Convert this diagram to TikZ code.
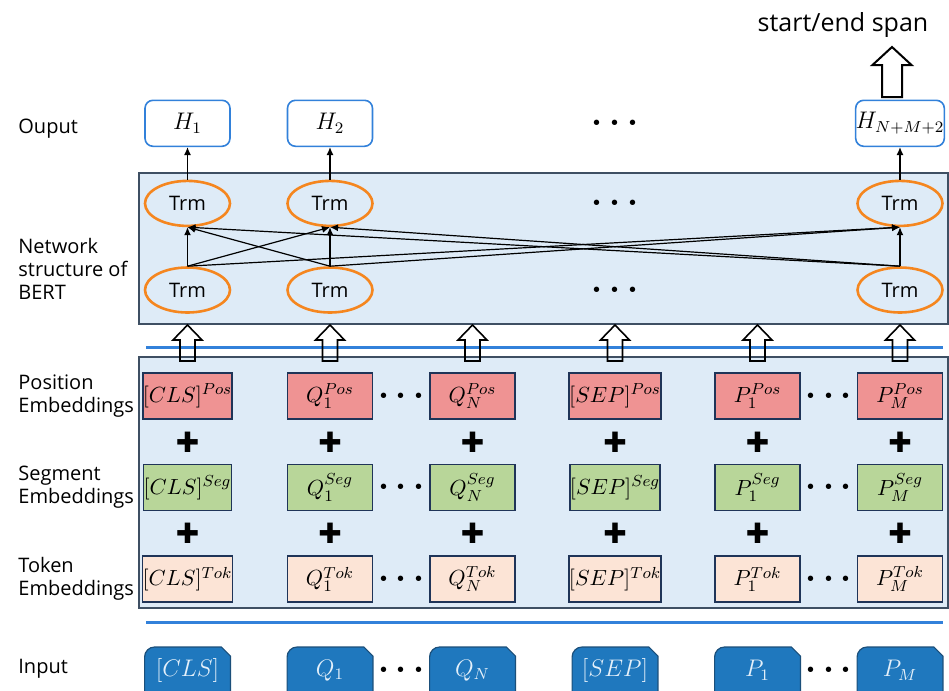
\documentclass[tikz,border=0pt]{standalone}
\usepackage{fontspec}
\setmainfont{Open Sans}
\newfontfamily\symfont{DejaVu Sans}
\usetikzlibrary{arrows.meta, positioning, calc, shapes.geometric, backgrounds}

\definecolor{panel}{HTML}{DEEBF7}
\definecolor{framegray}{HTML}{3E4F63}
\definecolor{navy}{HTML}{1F3458}
\definecolor{posred}{HTML}{EF9393}
\definecolor{seggreen}{HTML}{B8D699}
\definecolor{tokpeach}{HTML}{FCE4D6}
\definecolor{inblue}{HTML}{1F78BE}
\definecolor{inedge}{HTML}{1B4F7A}
\definecolor{intext}{HTML}{E4F0FA}
\definecolor{hblue}{HTML}{3281DA}
\definecolor{trmorange}{HTML}{F5861F}
\definecolor{lineblue}{HTML}{3281DA}

\begin{document}
\begin{tikzpicture}[
    x=0.5pt, y=-0.5pt,
    font=\fontsize{10}{11.5}\selectfont,
    node distance=22pt,
    rowlabel/.style={anchor=west, align=left, inner sep=0pt},
    frame/.style={draw=framegray, line width=0.7pt, fill=panel},
    emb/.style={draw=navy, line width=0.8pt, minimum width=42.5pt, minimum height=23pt, inner sep=0pt, font=\fontsize{11}{13}\selectfont},
    posbox/.style={emb, fill=posred},
    segbox/.style={emb, fill=seggreen},
    tokbox/.style={emb, fill=tokpeach},
    inbox/.style={minimum width=42.5pt, minimum height=23pt, inner sep=0pt, text=intext, font=\fontsize{12}{13}\selectfont},
    inshape/.style={fill=inblue, draw=inedge, line width=0.6pt},
    trm/.style={ellipse, draw=trmorange, line width=1.3pt, minimum width=42.5pt, minimum height=22.5pt, inner sep=0pt},
    hbox/.style={draw=hblue, rounded corners=4pt, line width=0.8pt, fill=white, minimum width=42.5pt, minimum height=23pt, inner sep=0pt, font=\fontsize{12}{13}\selectfont},
    hollow/.style={draw, line width=0.8pt, line join=miter},
    dots/.style={font=\fontsize{16}{16}\selectfont\boldmath, inner sep=0pt},
    plus/.style={font=\symfont\fontsize{14}{14}\selectfont, inner sep=0pt},
    ar/.style={-{Latex[length=4pt, width=3.5pt]}, line width=0.6pt},
    sep/.style={draw=lineblue, line width=1.5pt}
]
\useasboundingbox (0,0) rectangle (949,691);

% panels and separators
\draw[frame] (139,173) rectangle (948,324);
\draw[frame] (139,357) rectangle (948,608);
\draw[sep] (146,347) -- (943,347);
\draw[sep] (146,622) -- (943,622);

% row labels
\node[rowlabel] (lout) at (18,129) {Ouput};
\node[rowlabel] (lnet) at (18,269) {Network\\structure of\\BERT};
\node[rowlabel] (lpos) at (18,396) {Position\\Embeddings};
\node[rowlabel] (lseg) at (18,487) {Segment\\Embeddings};
\node[rowlabel] (ltok) at (18,579) {Token\\Embeddings};
\node[rowlabel] (lin) at (18,669) {Input};

% embedding columns
\foreach \i/\x/\t in {1/187.5/{[CLS]}, 2/330/{Q_1}, 3/472.5/{Q_N}, 4/615/{[SEP]}, 5/757.5/{P_1}, 6/900/{P_M}} {
  \node[posbox] (pos\i) at (\x,396) {$\t^{Pos}$};
  \node[segbox, below=of pos\i] (seg\i) {$\t^{Seg}$};
  \node[tokbox, below=of seg\i] (tok\i) {$\t^{Tok}$};
  \node[inbox, below=of tok\i] (in\i) {$\t$};
  \node[plus] (pa\i) at ($(pos\i)!0.5!(seg\i)$) {✚};
  \node[plus] (pb\i) at ($(seg\i)!0.5!(tok\i)$) {✚};
  % hollow arrow into the transformer panel
  \draw[hollow] (\x-7.5,361) -- (\x-7.5,340) -- (\x-14.5,340) -- (\x,325)
    -- (\x+14.5,340) -- (\x+7.5,340) -- (\x+7.5,361) -- cycle;
  \begin{scope}[on background layer]
    \filldraw[inshape] ([yshift=-6pt]in\i.south west) [rounded corners=5pt] -- (in\i.north west) [sharp corners]
      -- ([xshift=-4.5pt]in\i.north east) -- ([yshift=-4.5pt]in\i.north east) -- ([yshift=-6pt]in\i.south east) -- cycle;
  \end{scope}
}
\foreach \r in {pos,seg,tok,in} {
  \node[dots] (\r-da) at ($(\r2)!0.5!(\r3)$) {$\cdots$};
  \node[dots] (\r-db) at ($(\r5)!0.5!(\r6)$) {$\cdots$};
}

% transformer layers and outputs
\foreach \i/\h in {1/1, 2/2, 6/{N+M+2}} {
  \node[trm] (b\i) at (pos\i |- 0,290) {Trm};
  \node[trm, above=19.5pt of b\i] (t\i) {Trm};
  \node[hbox, above=16.25pt of t\i] (h\i) {$H_{\h}$};
  \draw[ar] (t\i) -- (h\i);
}
\foreach \a in {1,2,6}
  \foreach \b in {1,2,6}
    \draw[ar] (b\b.north) -- (t\a.south);
\node[dots] (tdots) at (pos4 |- t1) {$\cdots$};
\node[dots] (bdots) at (pos4 |- b1) {$\cdots$};
\node[dots] (hdots) at (pos4 |- h1) {$\cdots$};

% span prediction
\draw[hollow, line width=1pt] (882,97) -- (882,65) -- (872.5,65) -- (892,47)
  -- (911.5,65) -- (902,65) -- (902,97) -- cycle;
\node[font=\fontsize{12.5}{14}\selectfont] (spanlabel) at (843,25) {start/end span};
\end{tikzpicture}
\end{document}
